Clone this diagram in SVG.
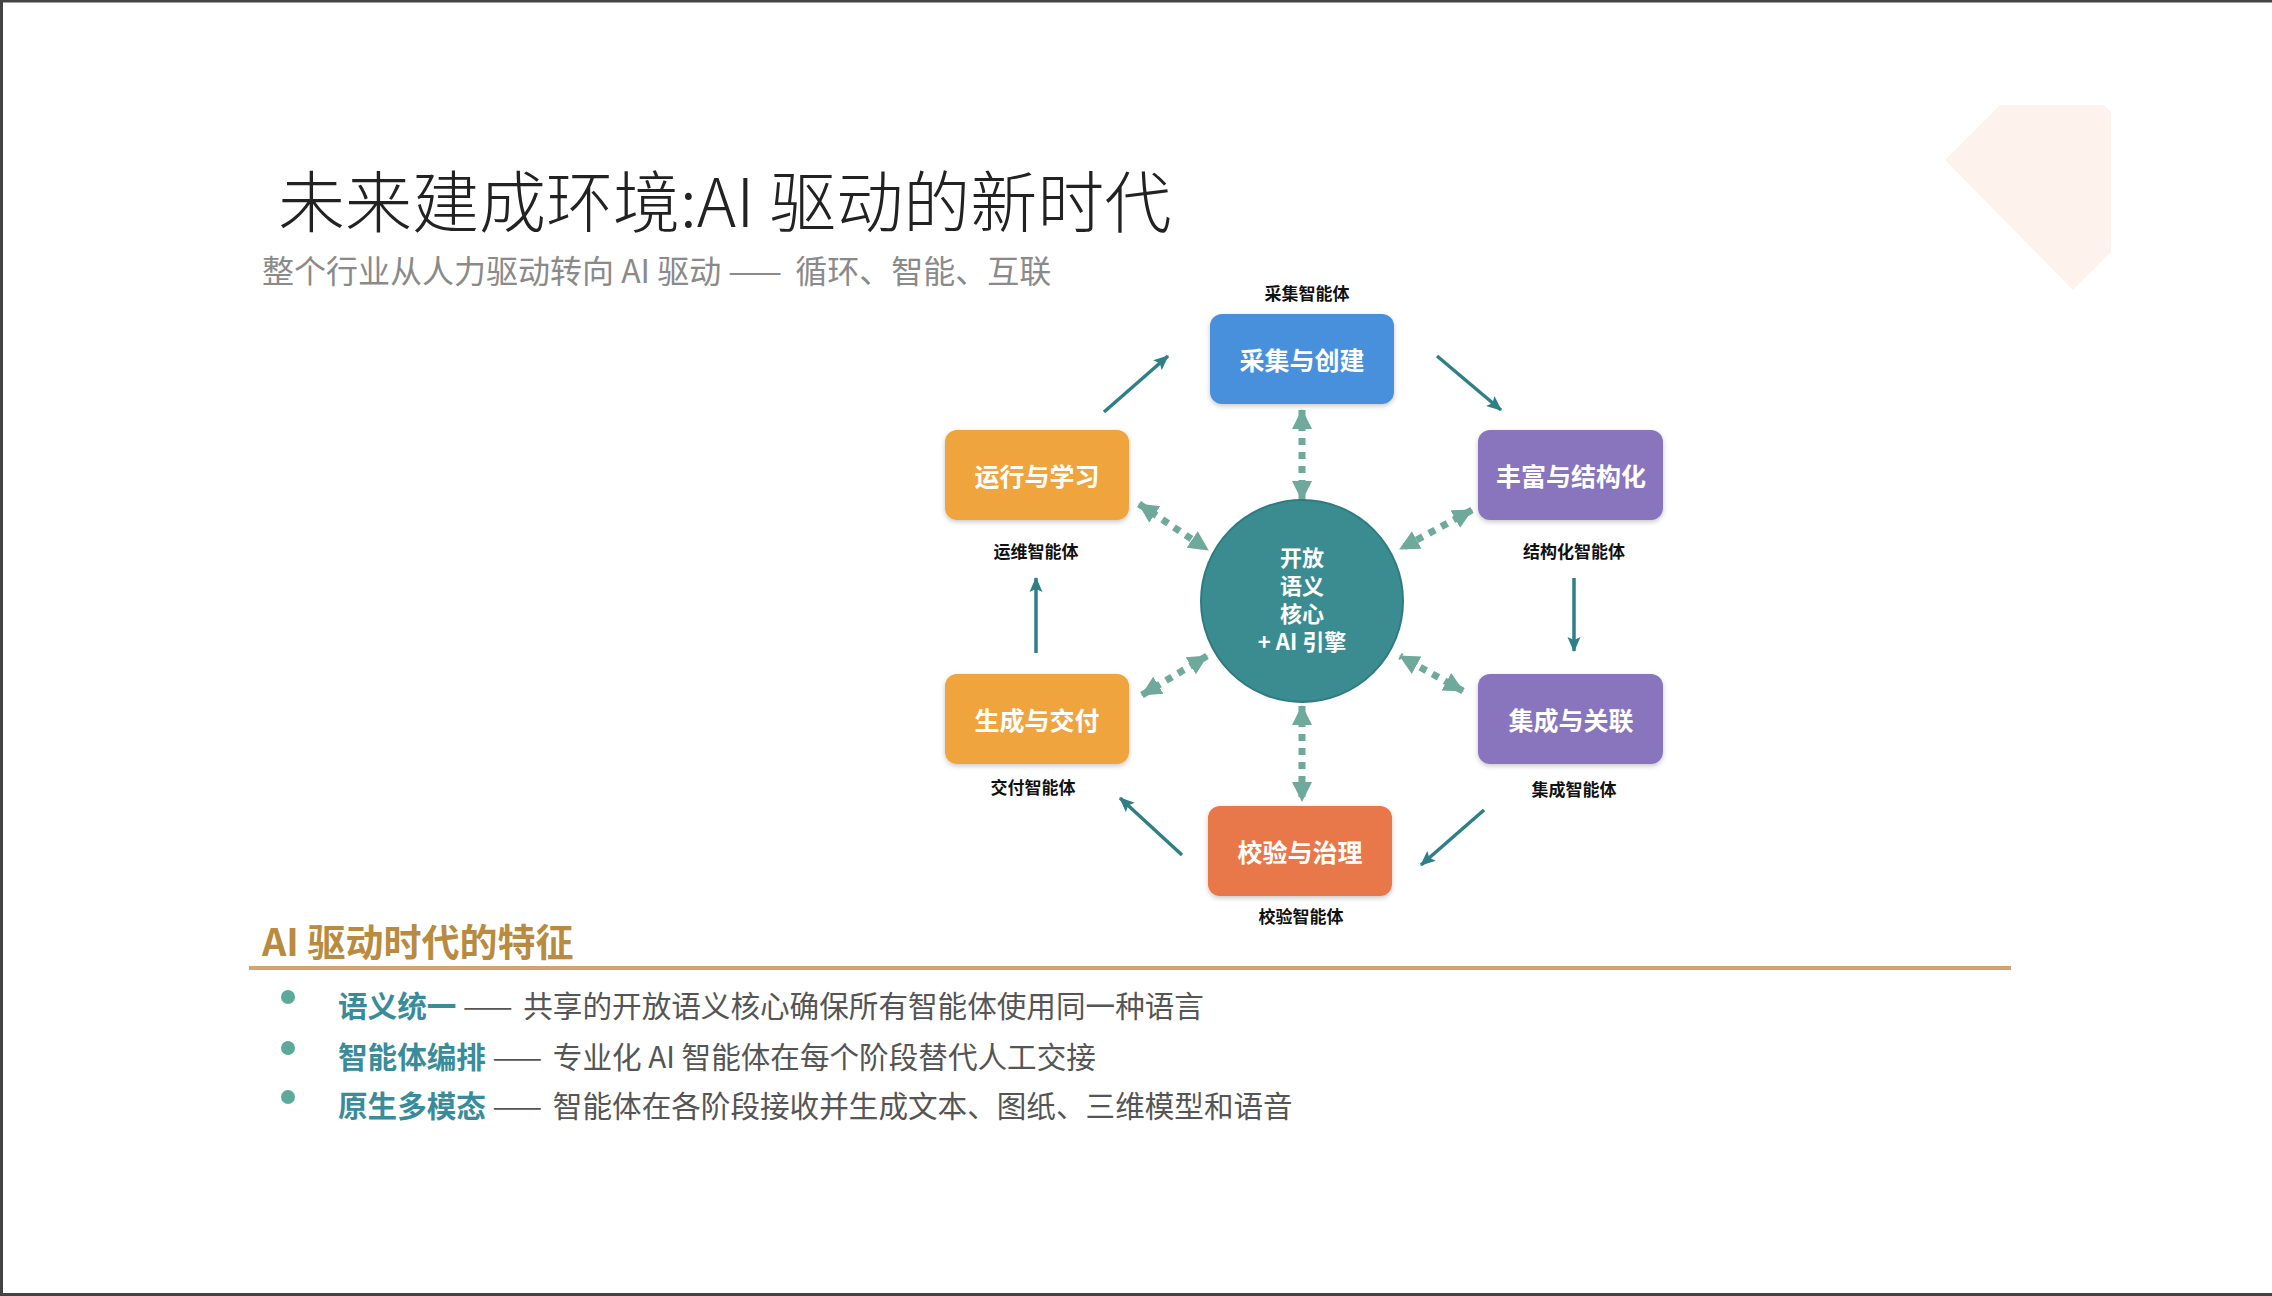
<svg xmlns="http://www.w3.org/2000/svg" width="2272" height="1296" viewBox="0 0 2272 1296">
<style>
.t{font-family:"Noto Sans CJK SC","Noto Sans",sans-serif}
.nt{font-family:"Noto Sans CJK SC","Noto Sans",sans-serif;font-size:25px;font-weight:700;fill:#fff;text-anchor:middle;dominant-baseline:central}
.lab{font-family:"Noto Sans CJK SC","Noto Sans",sans-serif;font-size:17px;font-weight:700;fill:#111;text-anchor:middle}
.arr{stroke:#2F7F86;stroke-width:3.5;fill:none;marker-end:url(#ah)}
.dot{stroke:#6FA99B;stroke-width:7;fill:none;stroke-dasharray:7 7;marker-start:url(#dh);marker-end:url(#dh)}
.bl{font-family:"Noto Sans CJK SC","Noto Sans",sans-serif;font-size:29.6px;fill:#555}
.bk{fill:#3A8C9A;font-weight:700}
.dash{letter-spacing:4px}
</style>
<defs>
<marker id="ah" markerUnits="userSpaceOnUse" markerWidth="16" markerHeight="14" refX="14" refY="7" orient="auto"><path d="M0,0.5 L15,7 L0,13.5 L3,7 z" fill="#2F7F86"/></marker>
<marker id="dh" markerUnits="userSpaceOnUse" markerWidth="22" markerHeight="22" refX="19" refY="11" orient="auto-start-reverse"><path d="M0,1 L20,11 L0,21 z" fill="#6FA99B"/></marker>
<filter id="sh" x="-10%" y="-10%" width="120%" height="130%"><feDropShadow dx="0" dy="2" stdDeviation="2.5" flood-color="#000" flood-opacity="0.22"/></filter>
</defs>
<rect width="2272" height="1296" fill="#fff"/>
<path d="M0,1 H2272 M1.5,0 V1296 M0,1294.5 H2272" stroke="#444" stroke-width="3" fill="none"/>
<polygon points="1945,160 2000,105 2104,105 2111,112 2111,252 2073,290" fill="#FDF3EC"/>

<text class="t" x="278" y="227" font-size="67" font-weight="300" fill="#222">未来建成环境:AI 驱动的新时代</text>
<text class="t" x="262" y="283" font-size="32" fill="#8a8a8a">整个行业从人力驱动转向 AI 驱动 <tspan letter-spacing="6">——</tspan> 循环、智能、互联</text>

<g id="connectors">
<line class="arr" x1="1104" y1="412" x2="1168" y2="356"/>
<line class="arr" x1="1437" y1="356" x2="1501" y2="410"/>
<line class="arr" x1="1574" y1="578" x2="1574" y2="651"/>
<line class="arr" x1="1484" y1="810" x2="1421" y2="865"/>
<line class="arr" x1="1182" y1="855" x2="1120" y2="798"/>
<line class="arr" x1="1036" y1="653" x2="1036" y2="578"/>
<line class="dot" x1="1302" y1="410" x2="1302" y2="500"/>
<line class="dot" x1="1139" y1="504" x2="1208" y2="550"/>
<line class="dot" x1="1472" y1="510" x2="1400" y2="549"/>
<line class="dot" x1="1142" y1="695" x2="1207" y2="656"/>
<line class="dot" x1="1463" y1="691" x2="1400" y2="656"/>
<line class="dot" x1="1302" y1="706" x2="1302" y2="801"/>
</g>

<g id="core">
<circle cx="1302" cy="601" r="101" fill="#3B8C90" stroke="#2E7B80" stroke-width="2"/>
<text class="t" font-size="22" font-weight="700" fill="#fff" text-anchor="middle"><tspan x="1302" y="566">开放</tspan><tspan x="1302" y="594">语义</tspan><tspan x="1302" y="622">核心</tspan><tspan x="1302" y="650">+ AI 引擎</tspan></text>
</g>

<g id="n-collect">
<rect x="1210" y="314" width="184" height="90" rx="12" fill="#4A90DC" filter="url(#sh)"/>
<text class="nt" x="1302" y="359">采集与创建</text>
<text class="lab" x="1307" y="300">采集智能体</text>
</g>
<g id="n-enrich">
<rect x="1478" y="430" width="185" height="90" rx="12" fill="#8875BD" filter="url(#sh)"/>
<text class="nt" x="1571" y="475">丰富与结构化</text>
<text class="lab" x="1574" y="558">结构化智能体</text>
</g>
<g id="n-integrate">
<rect x="1478" y="674" width="185" height="90" rx="12" fill="#8875BD" filter="url(#sh)"/>
<text class="nt" x="1571" y="719">集成与关联</text>
<text class="lab" x="1574" y="796">集成智能体</text>
</g>
<g id="n-validate">
<rect x="1208" y="806" width="184" height="90" rx="12" fill="#E8774A" filter="url(#sh)"/>
<text class="nt" x="1300" y="851">校验与治理</text>
<text class="lab" x="1301" y="923">校验智能体</text>
</g>
<g id="n-deliver">
<rect x="945" y="674" width="184" height="90" rx="12" fill="#F0A43C" filter="url(#sh)"/>
<text class="nt" x="1037" y="719">生成与交付</text>
<text class="lab" x="1033" y="794">交付智能体</text>
</g>
<g id="n-operate">
<rect x="945" y="430" width="184" height="90" rx="12" fill="#F0A43C" filter="url(#sh)"/>
<text class="nt" x="1037" y="475">运行与学习</text>
<text class="lab" x="1036" y="558">运维智能体</text>
</g>

<g id="features">
<text class="t" x="262" y="956" font-size="38" font-weight="700" fill="#B88B40">AI 驱动时代的特征</text>
<rect x="249" y="966" width="1762" height="4" fill="#D2A370"/>
<circle cx="288" cy="997" r="7" fill="#5BAA9A"/>
<circle cx="288" cy="1048" r="7" fill="#5BAA9A"/>
<circle cx="288" cy="1097" r="7" fill="#5BAA9A"/>
<text class="bl" x="338" y="1017"><tspan class="bk">语义统一</tspan> <tspan class="dash">——</tspan> 共享的开放语义核心确保所有智能体使用同一种语言</text>
<text class="bl" x="338" y="1068"><tspan class="bk">智能体编排</tspan> <tspan class="dash">——</tspan> 专业化 AI 智能体在每个阶段替代人工交接</text>
<text class="bl" x="338" y="1117"><tspan class="bk">原生多模态</tspan> <tspan class="dash">——</tspan> 智能体在各阶段接收并生成文本、图纸、三维模型和语音</text>
</g>
</svg>
